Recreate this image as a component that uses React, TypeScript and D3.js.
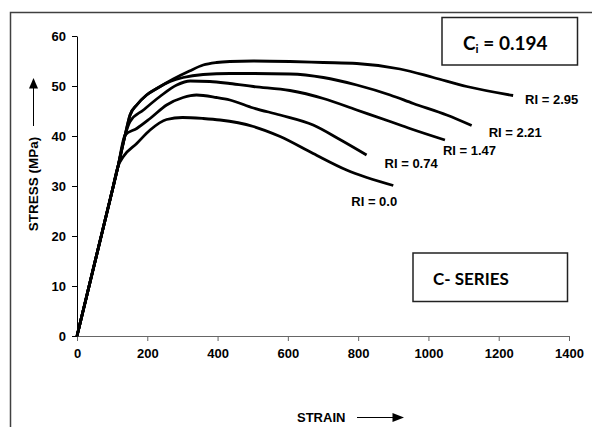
import React, { useEffect, useRef } from 'react'
import * as d3 from 'd3'

// stress-strain readings, strain (micro) vs stress (MPa)
const ri00 = [[0,0],[60,17.4],[100,29],[117,34],[132,35.9],[170,38.5],[208,41.2],[255,43.3],[300,43.7],[359,43.5],[407,43.2],[502,41.9],[578,39.9],[672,36.5],[767,33.2],[900,30.1]]
const ri074 = [[0,0],[60,17.4],[100,29],[117,34],[137,40.2],[170,41.5],[208,43.5],[255,46.2],[302,47.7],[340,48.2],[397,47.7],[435,47.2],[502,45.6],[578,44.2],[672,42.2],[748,39.3],[824,36.2]]
const ri147 = [[0,0],[60,17.4],[100,29],[117,34],[137,40.2],[151,42.9],[189,45.2],[236,47.9],[284,50.2],[322,51],[378,50.9],[435,50.5],[502,49.9],[606,49.1],[701,47.5],[796,45.2],[891,42.9],[947,41.5],[1047,39.2]]
const ri221 = [[0,0],[60,17.4],[100,29],[117,34],[137,40.2],[151,44.2],[170,46.2],[198,48.2],[227,49.5],[265,50.9],[302,51.7],[359,52.3],[435,52.5],[502,52.5],[606,52.4],[701,51.7],[796,50.2],[891,48.2],[957,46.5],[1052,44.2],[1123,42.1]]
const ri295 = [[0,0],[60,17.4],[100,29],[117,34],[137,40.2],[151,44.2],[170,46.2],[198,48.2],[227,49.5],[274,51.4],[320,53.0],[359,54.2],[397,54.7],[435,54.9],[502,55],[606,54.9],[701,54.7],[796,54.5],[919,53.4],[1014,51.7],[1109,49.9],[1241,48.1]]

const seriesList = [ri00, ri074, ri147, ri221, ri295]
const seriesNames = ['RI = 0.0', 'RI = 0.74', 'RI = 1.47', 'RI = 2.21', 'RI = 2.95']
// label offset from each curve's end point (px)
const labelOffsets = [[-42, 20], [18, 13], [-2, 15], [17, 11], [12, 8]]

const xTicks = [0, 200, 400, 600, 800, 1000, 1200, 1400]
const yTicks = [0, 10, 20, 30, 40, 50, 60]

const W = 592
const H = 427

function App() {
  const ref = useRef<SVGSVGElement>(null)

  useEffect(() => {
    const svg = d3.select(ref.current)
    svg.selectAll('*').remove()

    const x = d3.scaleLinear().domain([0, 1400]).range([77, 569])
    const y = d3.scaleLinear().domain([0, 60]).range([336, 36])
    const font = 'Liberation Sans, Arial, sans-serif'

    // outer frame (runs off the right and bottom)
    svg.append('path')
      .attr('d', `M10.5,${H + 5}V12.5H${W + 5}`)
      .attr('fill', 'none').attr('stroke', '#404040').attr('stroke-width', 1.5)

    // axes
    const xAxis = svg.append('g').attr('transform', 'translate(0,336)')
      .call(d3.axisBottom(x).tickValues(xTicks).tickFormat(d3.format('d')).tickSize(5).tickSizeOuter(0).tickPadding(8))
    xAxis.select('.domain').attr('stroke', '#666')
    xAxis.selectAll('.tick line').attr('stroke', '#666')
    xAxis.selectAll('text').attr('font-family', font).attr('font-size', 13)
      .attr('font-weight', 'bold').attr('fill', '#000')

    const yAxis = svg.append('g').attr('transform', 'translate(77,0)')
      .call(d3.axisLeft(y).tickValues(yTicks).tickSize(5).tickSizeOuter(0).tickPadding(6))
    yAxis.select('.domain').attr('stroke', '#000')
    yAxis.selectAll('.tick line').attr('stroke', '#000')
    yAxis.selectAll('text').attr('font-family', font).attr('font-size', 13)
      .attr('font-weight', 'bold').attr('fill', '#000')

    // curves
    const line = d3.line<number[]>()
      .x(d => x(d[0])).y(d => y(d[1]))
      .curve(d3.curveMonotoneX)

    svg.append('g').selectAll('path')
      .data(seriesList).enter().append('path')
      .attr('d', d => line(d))
      .attr('fill', 'none')
      .attr('stroke', '#000')
      .attr('stroke-width', 2.8)
      .attr('stroke-linejoin', 'round')

    svg.append('g').selectAll('text')
      .data(seriesList).enter().append('text')
      .attr('x', (d, i) => x(d[d.length - 1][0]) + labelOffsets[i][0])
      .attr('y', (d, i) => y(d[d.length - 1][1]) + labelOffsets[i][1])
      .attr('font-family', font).attr('font-size', 13).attr('font-weight', 'bold')
      .text((d, i) => seriesNames[i])

    // axis titles with arrows
    svg.append('text')
      .attr('transform', 'translate(38,184) rotate(-90)')
      .attr('text-anchor', 'middle')
      .attr('font-family', font).attr('font-size', 13.5).attr('font-weight', 'bold')
      .text('STRESS (MPa)')
    svg.append('line').attr('x1', 33.5).attr('x2', 33.5).attr('y1', 126).attr('y2', 88)
      .attr('stroke', '#000').attr('stroke-width', 1)
    svg.append('path').attr('d', 'M33.5,78L29,88.5H38Z').attr('fill', '#000')

    svg.append('text')
      .attr('x', 297).attr('y', 422)
      .attr('font-family', font).attr('font-size', 13).attr('font-weight', 'bold')
      .text('STRAIN')
    svg.append('line').attr('x1', 357).attr('x2', 393).attr('y1', 417.5).attr('y2', 417.5)
      .attr('stroke', '#000').attr('stroke-width', 1)
    svg.append('path').attr('d', 'M404,417.5L392.5,413V422Z').attr('fill', '#000')

    // annotation boxes
    svg.append('rect').attr('x', 442).attr('y', 17.5).attr('width', 135.5).attr('height', 47.5)
      .attr('fill', 'none').attr('stroke', '#222').attr('stroke-width', 1.5)
    const ci = svg.append('text').attr('x', 463).attr('y', 49.5)
      .attr('font-family', 'Lato, Noto Sans, sans-serif').attr('font-size', 19).attr('font-weight', 'bold')
    ci.append('tspan').text('C')
    ci.append('tspan').attr('font-size', 12).attr('dy', 3).text('i')
    ci.append('tspan').attr('dy', -3).text(' = 0.194')

    svg.append('rect').attr('x', 413).attr('y', 253).attr('width', 154.5).attr('height', 48.5)
      .attr('fill', 'none').attr('stroke', '#222').attr('stroke-width', 1.5)
    svg.append('text').attr('x', 433).attr('y', 285)
      .attr('font-family', 'Lato, Noto Sans, sans-serif').attr('font-size', 17).attr('font-weight', 'bold')
      .text('C- SERIES')
  }, [])

  return (
    <svg ref={ref} width={W} height={H}
      style={{ position: 'absolute', left: 0, top: 0, background: '#fff' }} />
  )
}

export default App
